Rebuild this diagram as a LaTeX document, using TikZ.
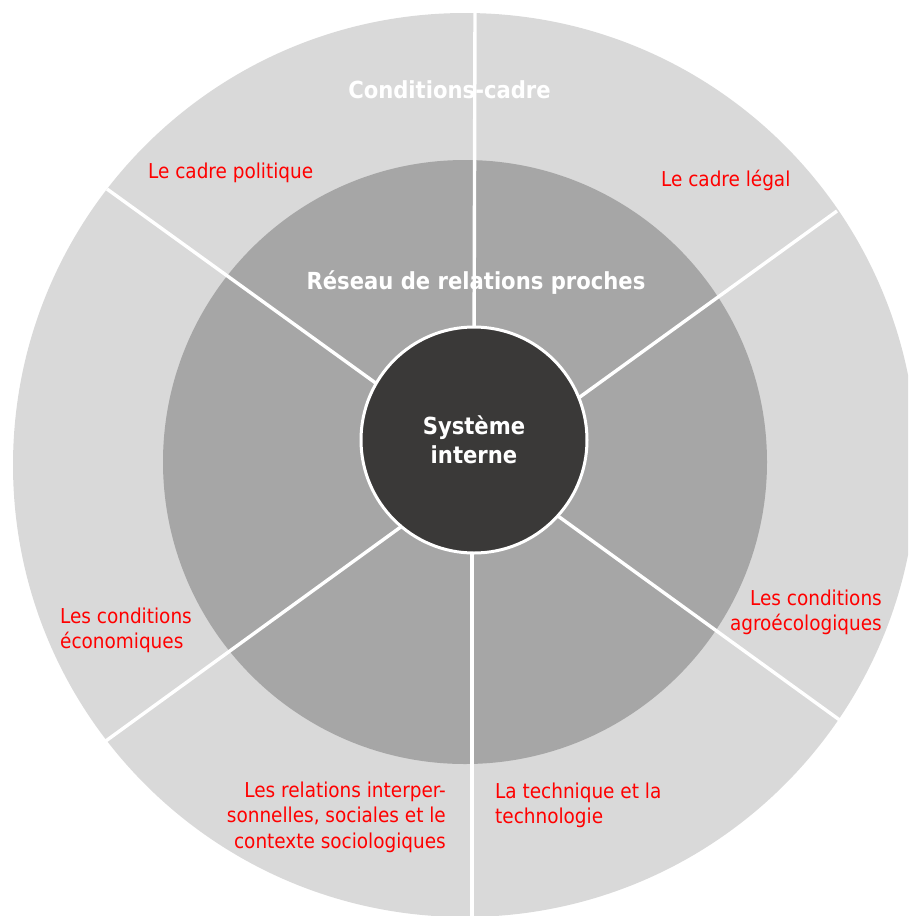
\documentclass[tikz,border=0pt]{standalone}
\usepackage{fontspec}
\setmainfont{DejaVu Sans Condensed}
\usetikzlibrary{positioning}
\definecolor{OuterGray}{HTML}{D9D9D9}
\definecolor{RingGray}{HTML}{A6A6A6}
\definecolor{CoreGray}{HTML}{3A3938}
\definecolor{LabelRed}{HTML}{FF0000}
\tikzset{
  ringtitle/.style={text=white,inner sep=0pt,
    font=\fontsize{23.5}{29}\selectfont\bfseries},
  corenode/.style={circle,fill=CoreGray,draw=white,line width=3pt,
    minimum size=226pt,inner sep=0pt,align=center,text=white,
    font=\fontsize{23.5}{29}\selectfont\bfseries},
  factor/.style={text=LabelRed,inner sep=0pt,
    font=\fontsize{20.5}{25.5}\selectfont},
  divider/.style={draw=white,line width=3.4pt},
}

\begin{document}
\begin{tikzpicture}[x=1pt,y=-1pt]
  \useasboundingbox (0,0) rectangle (908,916);
  \begin{scope}
    \clip (0,0) rectangle (908,916);
    \fill[OuterGray] (465,465) circle (452pt);
  \end{scope}
  \fill[RingGray] (465,462) circle (302pt);

  % dividers between the six segments
  \coordinate (topout) at (475,13);   \coordinate (topin) at (474,360);
  \coordinate (ulout) at (107,189);   \coordinate (ulin) at (395,397);
  \coordinate (urout) at (837,211);   \coordinate (urin) at (555,415);
  \coordinate (llout) at (103,743);   \coordinate (llin) at (420,513);
  \coordinate (lrout) at (841,721);   \coordinate (lrin) at (540,503);
  \coordinate (botout) at (472,916);  \coordinate (botin) at (472,530);
  \foreach \a/\b in {topout/topin,ulout/ulin,urout/urin,
                     llout/llin,lrout/lrin,botout/botin}
    \draw[divider] (\a) -- (\b);

  \node[corenode] (core) at (474,440) {Système\\interne};

  \node[ringtitle,anchor=base] (frame) at (449.5,98) {Conditions-cadre};
  \node[ringtitle,anchor=base] (close) at (476,289) {Réseau de relations proches};

  \node[factor,anchor=base west] (politic) at (148,178) {Le cadre politique};
  \node[factor,anchor=base west] (legal) at (661,186) {Le cadre légal};
  \node[factor,anchor=north east,align=right] (agro) at (882,589.5)
    {Les conditions\\agroécologiques};
  \node[factor,anchor=north west,align=left] (econ) at (60,607.5)
    {Les conditions\\économiques};
  \node[factor,anchor=north east,align=right] (social) at (446,781.5)
    {Les relations interper-\\sonnelles, sociales et le\\contexte sociologiques};
  \node[factor,anchor=north west,align=left] (tech) at (495,782.5)
    {La technique et la\\technologie};
\end{tikzpicture}
\end{document}
